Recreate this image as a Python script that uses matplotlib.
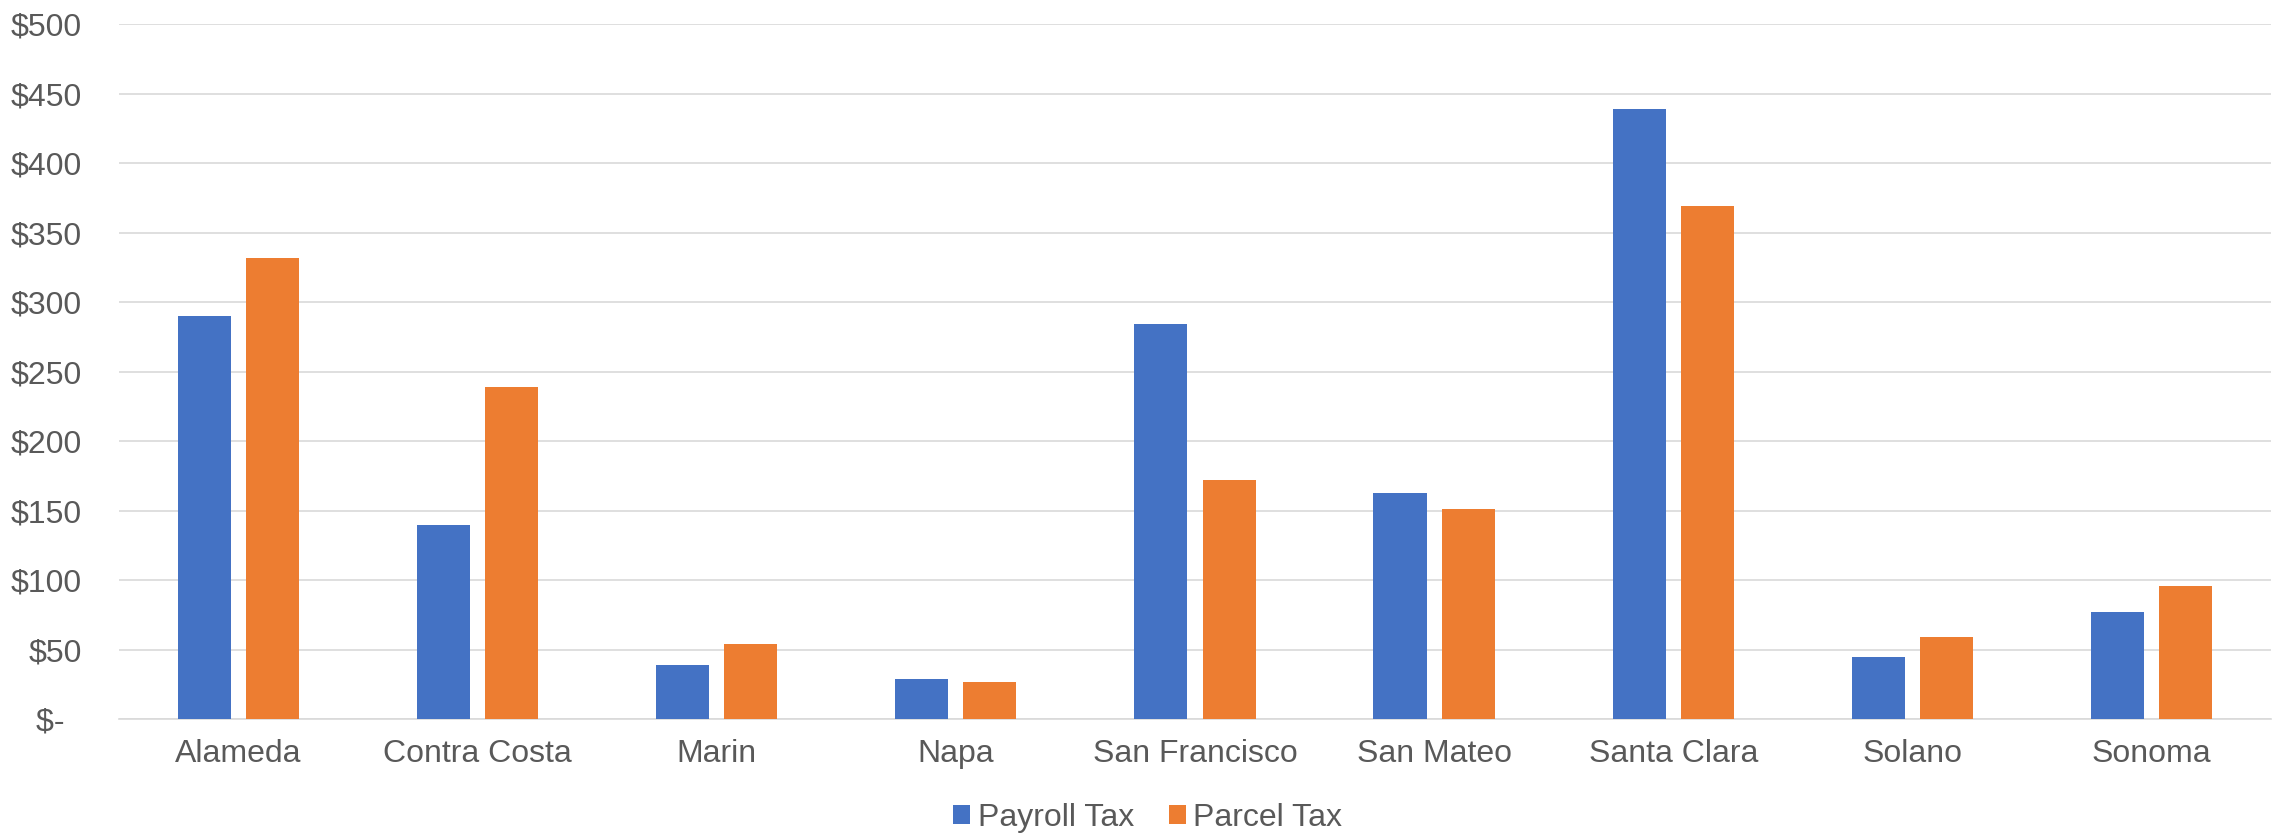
import numpy as np
import matplotlib
matplotlib.use("Agg")
import matplotlib.pyplot as plt
from matplotlib.ticker import FuncFormatter

counties = ["Alameda", "Contra Costa", "Marin", "Napa", "San Francisco",
            "San Mateo", "Santa Clara", "Solano", "Sonoma"]
payroll_tax = [290, 140, 39, 29, 284, 163, 439, 45, 77]
parcel_tax = [332, 239, 54, 27, 172, 151, 369, 59, 96]
y_ticks = [0, 50, 100, 150, 200, 250, 300, 350, 400, 450, 500]

BLUE = "#4472C4"
ORANGE = "#ED7D31"
GRID = "#D9D9D9"
TEXT = "#595959"
FS = 23

plt.rcParams["font.family"] = ["Liberation Sans", "DejaVu Sans"]

fig = plt.figure(figsize=(22.79, 8.36), dpi=100)
ax = fig.add_axes([0.0522, 0.1396, 0.9443, 0.8317])

x = np.arange(len(counties))
width = 0.222
offset = 0.1425
ax.bar(x - offset, payroll_tax, width, color=BLUE, label="Payroll Tax", zorder=3)
ax.bar(x + offset, parcel_tax, width, color=ORANGE, label="Parcel Tax", zorder=3)

ax.set_xlim(-0.5, len(counties) - 0.5)
ax.set_ylim(0, 500)
ax.set_yticks(y_ticks)


# accounting style labels, zero shown as a dash
def money(v, pos):
    if v == 0:
        return "$-  "
    return f"${v:,.0f}"


ax.yaxis.set_major_formatter(FuncFormatter(money))
ax.set_xticks(x)
ax.set_xticklabels(counties)

ax.grid(axis="y", color=GRID, linewidth=1.2, zorder=0)
for s in ["top", "right", "left"]:
    ax.spines[s].set_visible(False)
ax.spines["bottom"].set_color(GRID)
ax.spines["bottom"].set_linewidth(1.2)

ax.tick_params(axis="y", length=0, pad=26.6, labelsize=FS, labelcolor=TEXT)
ax.tick_params(axis="x", length=0, pad=14.5, labelsize=FS, labelcolor=TEXT)

leg = fig.legend(loc="center", bbox_to_anchor=(0.5037, 0.0221), ncol=2,
                 frameon=False, fontsize=FS, handlelength=0.52, handleheight=0.52,
                 handletextpad=0.24, columnspacing=1.1, borderpad=0)
for t in leg.get_texts():
    t.set_color(TEXT)

fig.savefig("out.png", dpi=100, facecolor="white")
